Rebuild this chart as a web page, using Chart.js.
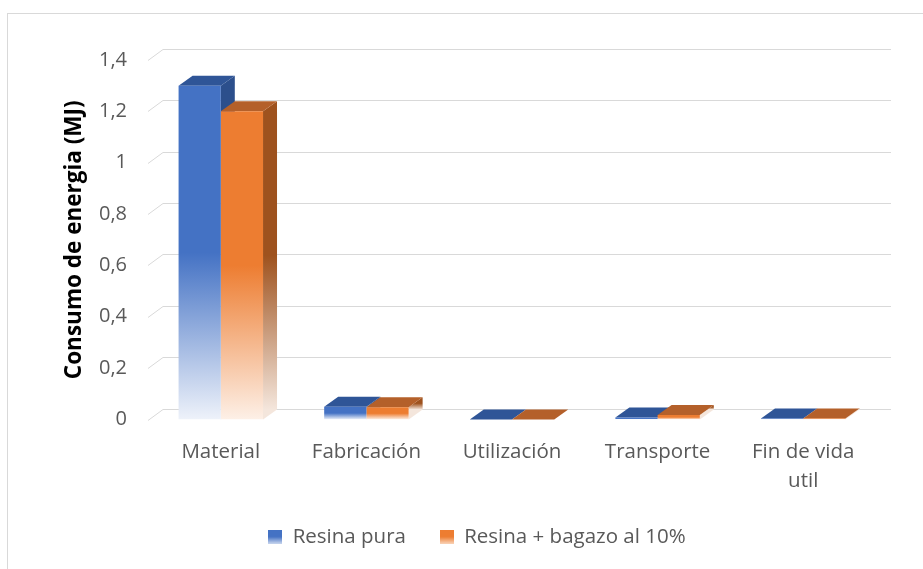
<!DOCTYPE html>
<html>
<head>
<meta charset="utf-8">
<script src="https://cdn.jsdelivr.net/npm/chart.js@4.4.0/dist/chart.umd.min.js"></script>
<style>
    html, body { margin: 0; padding: 0; background: #fff; }
    #wrap { position: relative; width: 923px; height: 569px; overflow: hidden; }
    #frame { position: absolute; left: 7px; top: 13px; width: 960px; height: 600px;
             border-left: 1px solid #d9d9d9; border-top: 1px solid #d9d9d9; }
    canvas { position: absolute; left: 0; top: 0; }
</style>
</head>
<body>
<div id="wrap">
    <div id="frame"></div>
    <canvas id="energyChart" width="923" height="569"></canvas>
</div>
<script>
// Data
const categories = ['Material', 'Fabricación', 'Utilización', 'Transporte', ['Fin de vida', 'util']];
const resinaPura = [1.3, 0.05, 0, 0.008, 0.004];
const resinaBagazo = [1.2, 0.048, 0, 0.018, 0.004];
const seriesNames = ['Resina pura', 'Resina + bagazo al 10%'];
const yMax = 1.4;
const yStep = 0.2;

// depth of the fake 3D look
const BAR_DX = 14, BAR_DY = 10;
const WALL_DX = 15, WALL_DY = 11;
// the Excel frame is wider than the picture, so the legend sits right of centre
const LEGEND_SHIFT = 39;

const FONT = '"Open Sans", "Noto Sans", sans-serif';

//Front face fades to white towards the floor, like the Excel gradient.
function frontFill(color, fade) {
    return function(context) {
        const chart = context.chart;
        if (context.type !== 'data' || !chart.chartArea) return color;
        const y = chart.scales.y;
        const top = y.getPixelForValue(context.raw);
        const base = y.getPixelForValue(0);
        if (base - top < 1) return color;
        const g = chart.ctx.createLinearGradient(0, top, 0, base);
        g.addColorStop(0, color);
        g.addColorStop(0.5, color);
        g.addColorStop(1, fade);
        return g;
    };
}

//Small gradient square used as legend marker.
function swatch(color, fade) {
    const c = document.createElement('canvas');
    c.width = 14; c.height = 14;
    const g = c.getContext('2d');
    const gr = g.createLinearGradient(0, 0, 0, 14);
    gr.addColorStop(0, color);
    gr.addColorStop(0.5, color);
    gr.addColorStop(1, fade);
    g.fillStyle = gr;
    g.fillRect(0, 0, 14, 14);
    return c;
}

function poly(ctx, pts) {
    ctx.beginPath();
    ctx.moveTo(pts[0][0], pts[0][1]);
    for (let i = 1; i < pts.length; i++) ctx.lineTo(pts[i][0], pts[i][1]);
    ctx.closePath();
    ctx.fill();
}

//Draws the back wall grid and the top/side faces of each bar before the fronts.
const bar3d = {
    id: 'bar3d',
    afterLayout(chart) {
        chart.legend.left += LEGEND_SHIFT;
        chart.legend.right += LEGEND_SHIFT;
    },
    beforeDatasetsDraw(chart) {
        const ctx = chart.ctx;
        const area = chart.chartArea;
        const y = chart.scales.y;
        ctx.save();
        ctx.strokeStyle = '#d9d9d9';
        ctx.lineWidth = 1;
        y.ticks.forEach(t => {
            const py = Math.round(y.getPixelForValue(t.value)) + 0.5;
            ctx.beginPath();
            ctx.moveTo(area.left, py);
            ctx.lineTo(area.left + WALL_DX, py - WALL_DY);
            ctx.lineTo(area.right + WALL_DX, py - WALL_DY);
            ctx.stroke();
        });
        chart.data.datasets.forEach((ds, di) => {
            const meta = chart.getDatasetMeta(di);
            meta.data.forEach(bar => {
                const p = bar.getProps(['x', 'y', 'base', 'width'], true);
                const l = p.x - p.width / 2, r = p.x + p.width / 2;
                const top = p.y, base = p.base;
                if (base - top > 1) {
                    const sg = ctx.createLinearGradient(0, top - BAR_DY, 0, base - BAR_DY);
                    sg.addColorStop(0, ds.sideColor);
                    sg.addColorStop(0.5, ds.sideColor);
                    sg.addColorStop(1, ds.sideFade);
                    ctx.fillStyle = sg;
                    poly(ctx, [[r, top], [r + BAR_DX, top - BAR_DY], [r + BAR_DX, base - BAR_DY], [r, base]]);
                }
                ctx.fillStyle = ds.topColor;
                poly(ctx, [[l, top], [l + BAR_DX, top - BAR_DY], [r + BAR_DX, top - BAR_DY], [r, top]]);
            });
        });
        ctx.restore();
    }
};

const ctx = document.getElementById('energyChart').getContext('2d');
const energyChart = new Chart(ctx, {
    type: 'bar',
    data: {
        labels: categories,
        datasets: [{
            label: seriesNames[0],
            data: resinaPura,
            backgroundColor: frontFill('#4472C4', '#EEF2FA'),
            topColor: '#2F5597',
            sideColor: '#2C4F8C',
            sideFade: '#E4E9F2',
            legendSwatch: swatch('#4472C4', '#C9D6EE'),
            borderWidth: 0
        }, {
            label: seriesNames[1],
            data: resinaBagazo,
            backgroundColor: frontFill('#ED7D31', '#FDF0E7'),
            topColor: '#B4602A',
            sideColor: '#9E521E',
            sideFade: '#F4E6DC',
            legendSwatch: swatch('#ED7D31', '#F9D3B8'),
            borderWidth: 0
        }]
    },
    options: {
        responsive: false,
        animation: false,
        events: [],
        categoryPercentage: 0.58,
        barPercentage: 1,
        layout: { padding: { top: 60, right: 47, bottom: 12, left: 0 } },
        scales: {
            x: {
                grid: { display: false, drawTicks: false },
                border: { display: false },
                ticks: {
                    color: '#595959',
                    padding: 18,
                    maxRotation: 0,
                    font: { family: FONT, size: 20.5, lineHeight: 1.42 }
                },
                afterFit: function(scale) { scale.height = 73; }
            },
            y: {
                min: 0,
                max: yMax,
                grid: { display: false, drawTicks: false },
                border: { display: false },
                ticks: {
                    stepSize: yStep,
                    color: '#595959',
                    padding: 21,
                    font: { family: FONT, size: 20 },
                    callback: function(value) {
                        return String(Math.round(value * 10) / 10).replace('.', ',');
                    }
                },
                title: {
                    display: true,
                    text: 'Consumo de energia (MJ)',
                    color: '#000',
                    padding: { top: 61, bottom: 0 },
                    font: { family: FONT, size: 22.5, weight: 'bold' }
                },
                afterFit: function(scale) { scale.width = 148; }
            }
        },
        plugins: {
            tooltip: { enabled: false },
            legend: {
                position: 'bottom',
                labels: {
                    color: '#595959',
                    font: { family: FONT, size: 20.5 },
                    boxWidth: 14,
                    boxHeight: 14,
                    padding: 34,
                    usePointStyle: true,
                    generateLabels: function(chart) {
                        return chart.data.datasets.map((ds, i) => ({
                            text: ds.label,
                            fillStyle: 'transparent',
                            strokeStyle: 'transparent',
                            lineWidth: 0,
                            pointStyle: ds.legendSwatch,
                            fontColor: '#595959',
                            hidden: false,
                            datasetIndex: i
                        }));
                    }
                }
            }
        }
    },
    plugins: [bar3d]
});
</script>
</body>
</html>
